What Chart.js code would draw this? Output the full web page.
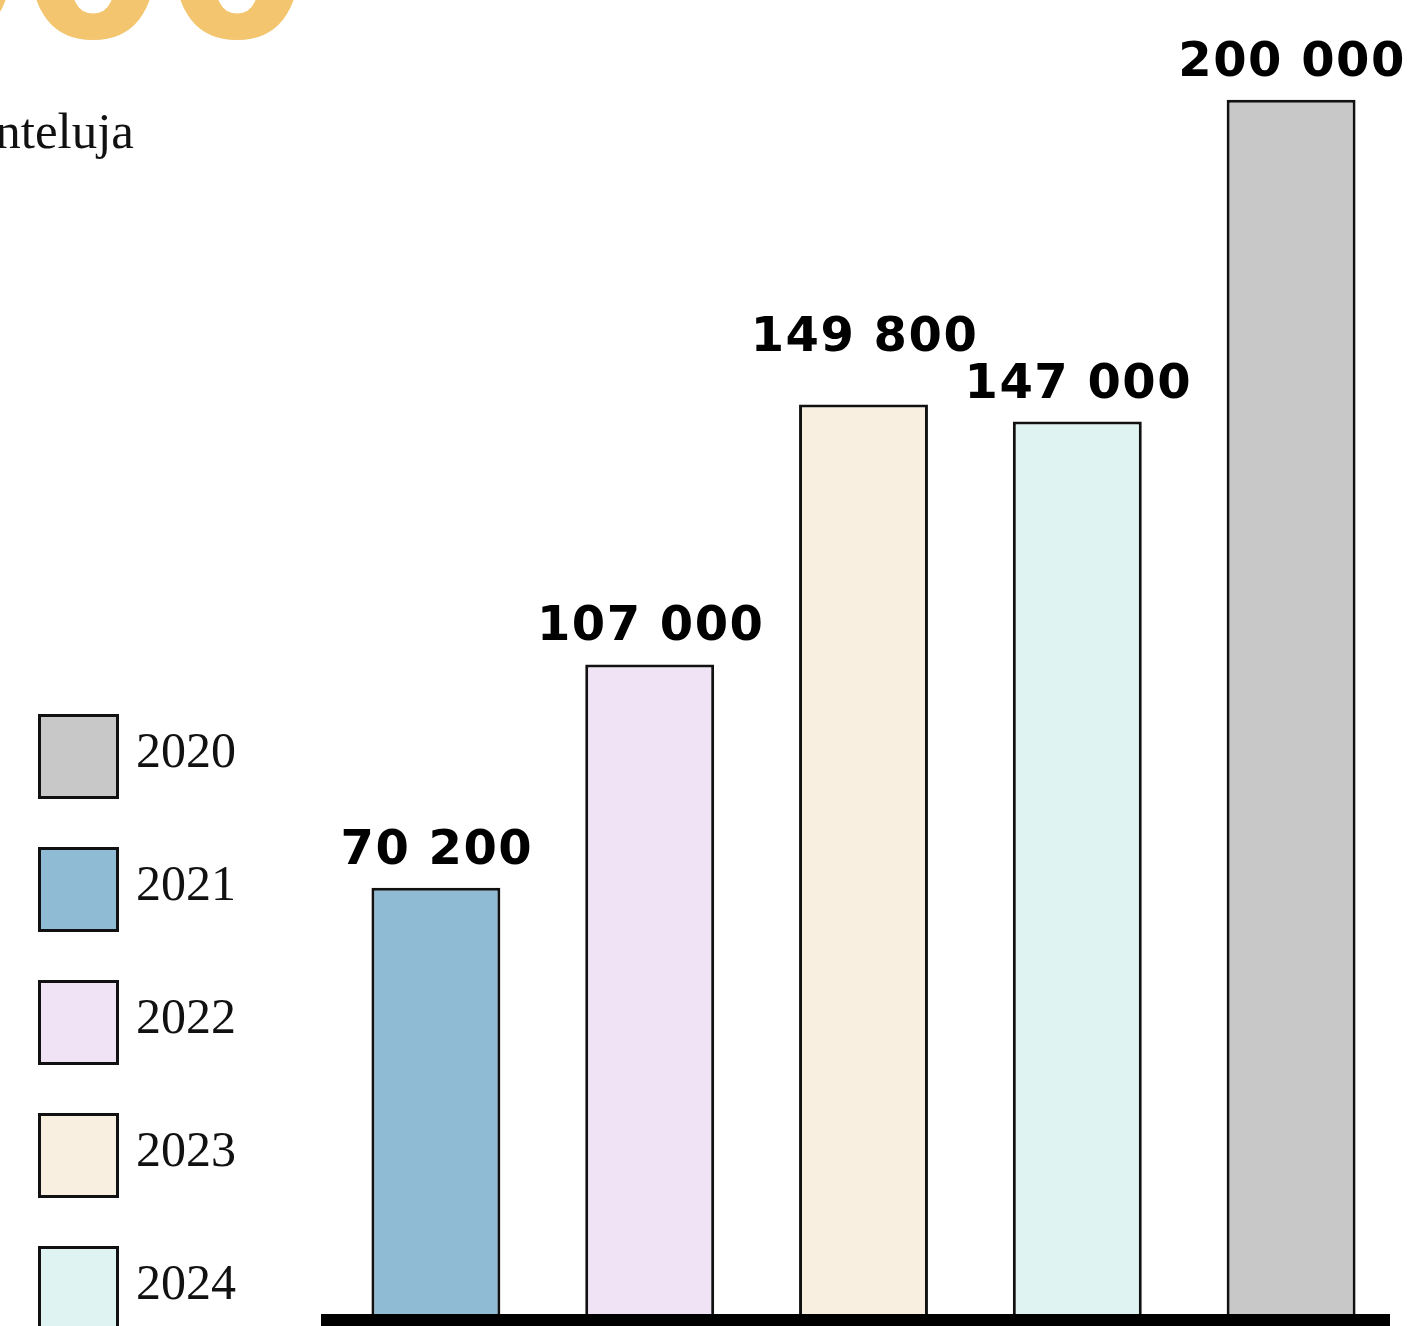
<!DOCTYPE html>
<html>
<head>
<meta charset="utf-8">
<title>Kuuntelut vuosittain</title>
<script src="https://cdn.jsdelivr.net/npm/chart.js@4/dist/chart.umd.min.js"></script>
<style>
  html, body { margin: 0; padding: 0; background: #ffffff; overflow: hidden; }
  canvas { display: block; }
</style>
</head>
<body>
<canvas id="chart" width="1420" height="1326"></canvas>
<script>
// Bars, left to right, and their values
const categories = ['2021', '2022', '2023', '2024', '2020'];
const listens = [70200, 107000, 149800, 147000, 200000];
const barColors = ['#90bbd5', '#f0e3f5', '#f8efe1', '#dff3f2', '#c8c8c8'];

// Colour key
const legendYears = ['2020', '2021', '2022', '2023', '2024'];
const legendColors = ['#c8c8c8', '#90bbd5', '#f0e3f5', '#f8efe1', '#dff3f2'];

// Heading
const headingWord = 'kuunteluja';
const yMax = 211500;

const fmt = v => v.toLocaleString('fi-FI');
const total = listens.reduce((a, b) => a + b, 0);

const headingPlugin = {
  id: 'heading',
  beforeDraw(chart) {
    const ctx = chart.ctx;
    ctx.save();
    ctx.fillStyle = '#f2c56e';
    ctx.font = 'bold 207px "DejaVu Sans"';
    ctx.textAlign = 'right';
    ctx.textBaseline = 'alphabetic';
    ctx.fillText(fmt(total), 309, 37);
    ctx.fillStyle = '#111111';
    ctx.font = '51px "Liberation Serif"';
    ctx.fillText(headingWord, 134, 148);
    ctx.restore();
  }
};

const keyPlugin = {
  id: 'yearKey',
  afterDraw(chart) {
    const ctx = chart.ctx;
    ctx.save();
    legendYears.forEach((year, i) => {
      const top = 714 + i * 133;
      ctx.fillStyle = legendColors[i];
      ctx.fillRect(38, top, 81, 85);
      ctx.strokeStyle = '#111111';
      ctx.lineWidth = 3;
      ctx.strokeRect(39.5, top + 1.5, 78, 82);
      ctx.fillStyle = '#111111';
      ctx.font = '50px "Liberation Serif"';
      ctx.textAlign = 'left';
      ctx.textBaseline = 'alphabetic';
      ctx.fillText(year, 136, top + 53);
    });
    ctx.restore();
  }
};

const valueLabelPlugin = {
  id: 'valueLabels',
  afterDatasetsDraw(chart) {
    const ctx = chart.ctx;
    const meta = chart.getDatasetMeta(0);
    const area = chart.chartArea;
    ctx.save();
    // thick base line
    ctx.fillStyle = '#000000';
    ctx.fillRect(area.left - 8, area.bottom, area.right - area.left, 12);
    ctx.font = 'bold 48px "DejaVu Sans"';
    ctx.letterSpacing = '1.5px';
    ctx.textAlign = 'center';
    ctx.textBaseline = 'alphabetic';
    meta.data.forEach((bar, i) => {
      // the 149 800 label sits higher so it clears its neighbour
      const lift = i === 2 ? 30 : 0;
      ctx.fillText(fmt(listens[i]), bar.x + 1, bar.y - 24 - lift);
    });
    ctx.restore();
  }
};

new Chart(document.getElementById('chart'), {
  type: 'bar',
  data: {
    labels: categories,
    datasets: [{
      data: listens,
      backgroundColor: barColors,
      borderColor: '#111111',
      borderWidth: 3,
      borderSkipped: 'start',
      categoryPercentage: 1,
      barPercentage: 0.603
    }]
  },
  options: {
    responsive: false,
    devicePixelRatio: 1,
    animation: false,
    layout: { padding: { left: 329, right: 22, top: 30, bottom: 12 } },
    scales: {
      x: { display: false },
      y: { display: false, min: 0, max: yMax }
    },
    plugins: {
      legend: { display: false },
      tooltip: { enabled: false }
    }
  },
  plugins: [headingPlugin, keyPlugin, valueLabelPlugin]
});
</script>
</body>
</html>
